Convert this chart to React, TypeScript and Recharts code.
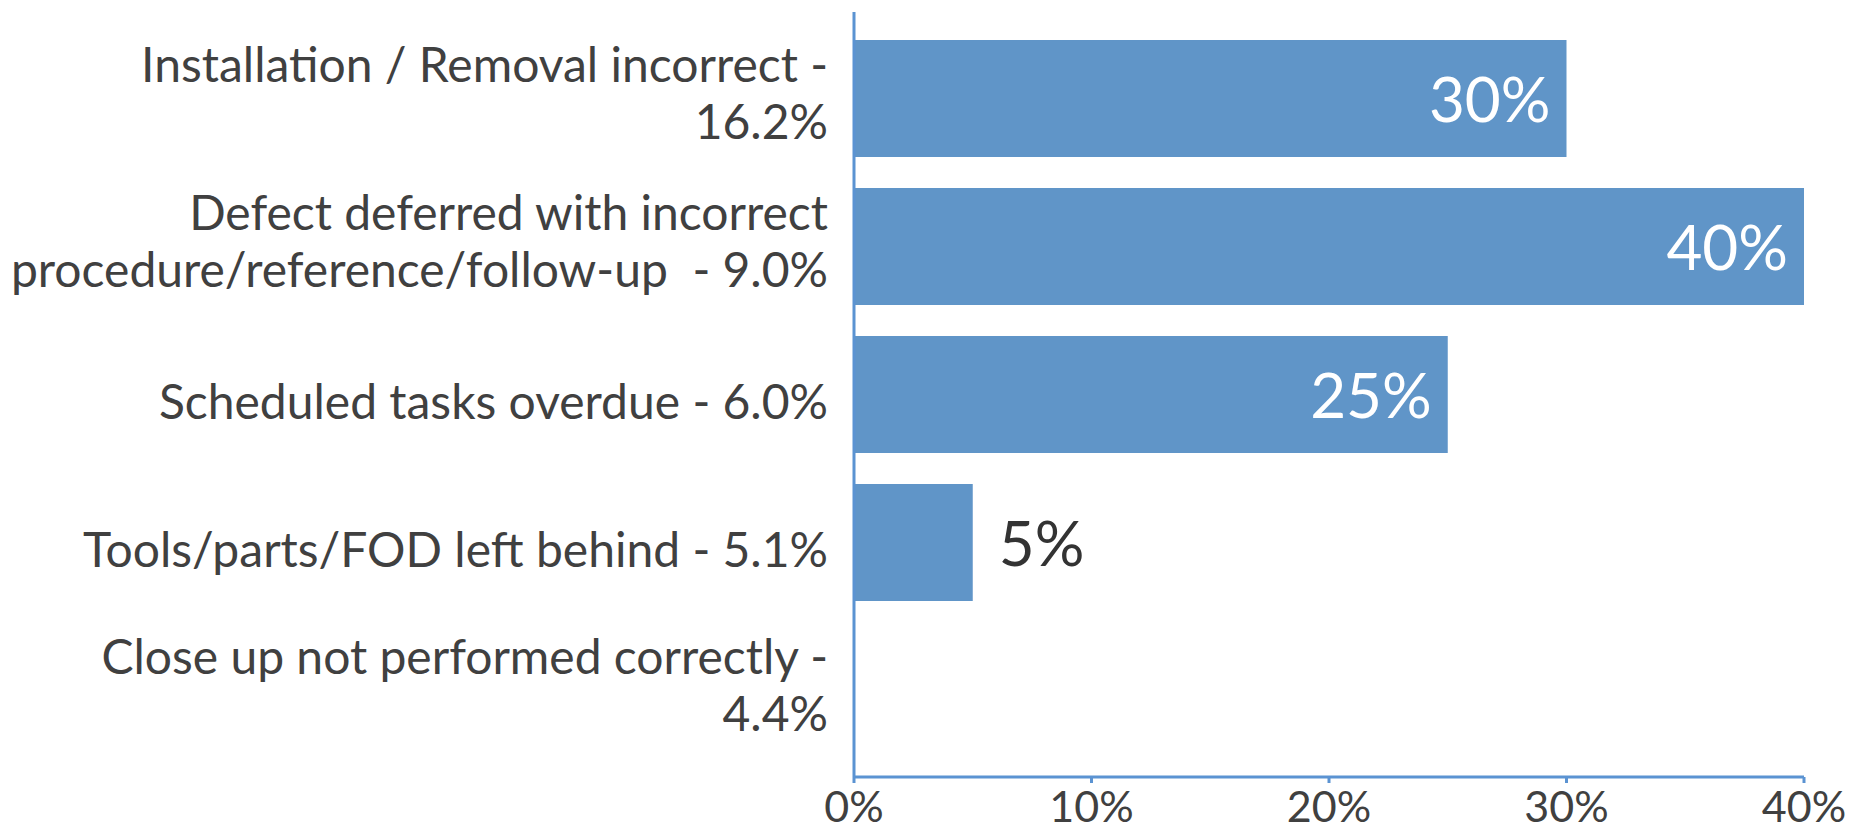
import React from "react";
import { BarChart, Bar, XAxis, YAxis, LabelList } from "recharts";

// Error categories (line breaks as shown on the axis)
const categories: string[] = [
  "Installation / Removal incorrect -\n16.2%",
  "Defect deferred with incorrect\nprocedure/reference/follow-up  - 9.0%",
  "Scheduled tasks overdue - 6.0%",
  "Tools/parts/FOD left behind - 5.1%",
  "Close up not performed correctly -\n4.4%",
];

// Share of each category, in percent
const shares: number[] = [30, 40, 25, 5, 0];

const xTicks: number[] = [0, 10, 20, 30, 40];

const data = categories.map((name, i) => ({ name, value: shares[i] }));

const FONT = "Lato, 'Noto Sans', sans-serif";
const TEXT = "#404040";
const BAR = "#6095c8";
const AXIS = "#5b93d2";

const CategoryTick = (props: any) => {
  const { x, y, payload } = props;
  const lines = String(payload.value).split("\n");
  const lh = 57;
  const start = -((lines.length - 1) * lh) / 2 + (lines.length === 1 ? 25 : 12);
  return (
    <text
      x={x}
      y={y}
      textAnchor="end"
      fill={TEXT}
      fontSize={48}
      fontFamily={FONT}
    >
      {lines.map((ln, i) => (
        <tspan key={i} x={x} dy={i === 0 ? start : lh} style={{ whiteSpace: "pre" }}>
          {ln}
        </tspan>
      ))}
    </text>
  );
};

const ValueLabel = (props: any) => {
  const { x, y, width, height, value } = props;
  if (!value) return null;
  const inside = value >= 10;
  const cy = y + height / 2;
  return (
    <text
      x={inside ? x + width - 16 : x + width + 26}
      y={cy}
      dy="0.38em"
      textAnchor={inside ? "end" : "start"}
      fill={inside ? "#ffffff" : "#333333"}
      fontSize={62}
      fontFamily={FONT}
    >
      {`${value}%`}
    </text>
  );
};

export default function App() {
  return (
    <div style={{ position: "absolute", left: 0, top: 0, background: "#ffffff" }}>
      <BarChart
        width={1860}
        height={832}
        data={data}
        layout="vertical"
        margin={{ top: 12, right: 56, bottom: 0, left: 0 }}
      >
        <XAxis
          type="number"
          domain={[0, 40]}
          ticks={xTicks}
          tickFormatter={(v: number) => `${v}%`}
          height={55}
          stroke={AXIS}
          strokeWidth={3}
          tickSize={6}
          tickMargin={8}
          tick={{ fill: TEXT, fontSize: 43, fontFamily: FONT }}
          interval={0}
        />
        <YAxis
          type="category"
          dataKey="name"
          width={854}
          stroke={AXIS}
          strokeWidth={3}
          tickLine={false}
          tickSize={6}
          tickMargin={20}
          padding={{ top: 12, bottom: 13 }}
          tick={<CategoryTick />}
          interval={0}
        />
        <Bar dataKey="value" fill={BAR} barSize={117} isAnimationActive={false}>
          <LabelList dataKey="value" content={<ValueLabel />} />
        </Bar>
      </BarChart>
    </div>
  );
}
